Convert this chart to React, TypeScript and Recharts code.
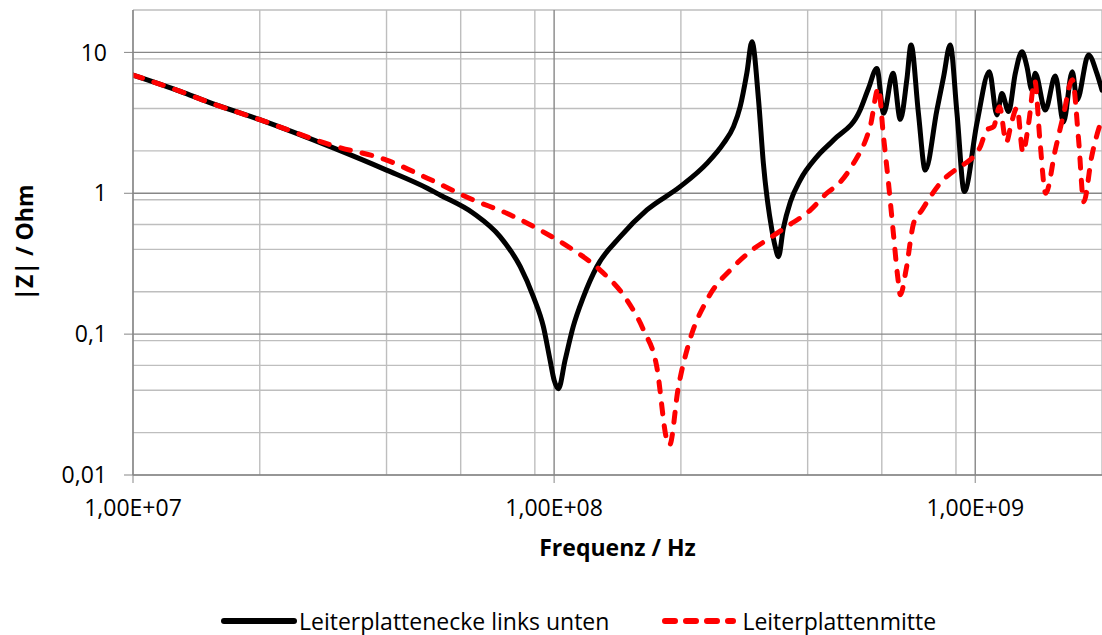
import { CartesianGrid, Line, LineChart, XAxis, YAxis } from "recharts";

// Frequenz in Hz, |Z| in Ohm
const eckeFreq = [
  1.0e7, 1.3e7, 1.5e7, 2.0e7, 3.0e7, 4.0e7, 5.0e7, 5.36e7, 6.43e7, 7.44e7, 8.31e7, 8.93e7,
  9.43e7, 9.78e7, 1.0e8, 1.024e8, 1.062e8, 1.11e8, 1.174e8, 1.263e8, 1.436e8, 1.661e8,
  1.992e8, 2.306e8, 2.525e8, 2.667e8, 2.766e8, 2.87e8, 2.95e8, 3.058e8, 3.14e8, 3.29e8,
  3.35e8, 3.41e8, 3.5e8, 3.64e8, 3.84e8, 4.21e8, 4.61e8, 5.33e8, 5.58e8, 5.84e8, 6.06e8,
  6.38e8, 6.64e8, 6.88e8, 7.04e8, 7.33e8, 7.61e8, 8.11e8, 8.41e8, 8.72e8, 9.05e8, 9.42e8,
  1.01e9, 1.08e9, 1.126e9, 1.157e9, 1.2e9, 1.245e9, 1.291e9, 1.327e9, 1.363e9, 1.388e9,
  1.467e9, 1.549e9, 1.62e9, 1.7e9, 1.745e9, 1.858e9, 1.945e9, 2.0e9,
];
const eckeZ = [
  6.9, 5.27, 4.47, 3.33, 2.09, 1.46, 1.085, 0.972, 0.721, 0.492, 0.301, 0.184,
  0.113, 0.0655, 0.0472, 0.041, 0.0655, 0.113, 0.184, 0.301, 0.492, 0.761,
  1.114, 1.63, 2.26, 2.97, 4.12, 7.2, 11.9, 4.6, 1.63, 0.548,
  0.418, 0.355, 0.56, 0.87, 1.24, 1.82, 2.39, 3.9, 5.57, 7.7, 3.7,
  7.1, 3.35, 6.4, 11.3, 3.7, 1.46, 3.9, 6.7, 11.3, 3.7, 1.03,
  3.18, 7.3, 3.6, 5.1, 3.8, 7.1, 10.1, 7.9, 5.4, 7.1,
  3.9, 6.8, 3.2, 7.3, 4.6, 9.6, 7.1, 5.4,
];

const mitteFreq = [
  1.0e7, 1.3e7, 1.5e7, 2.0e7, 3.0e7, 4.0e7, 5.0e7, 6.43e7, 7.72e7, 9.26e7, 1.11e8, 1.286e8,
  1.489e8, 1.63e8, 1.753e8, 1.853e8, 1.88e8, 1.97e8, 2.1e8, 2.306e8, 2.667e8, 3.0e8, 3.2e8,
  3.57e8, 4.06e8, 4.44e8, 4.78e8, 5.14e8, 5.53e8, 5.63e8, 5.89e8, 6.05e8, 6.22e8, 6.4e8,
  6.55e8, 6.64e8, 6.85e8, 7.14e8, 7.47e8, 8.26e8, 9.21e8, 9.47e8, 1.028e9, 1.066e9, 1.106e9,
  1.142e9, 1.185e9, 1.22e9, 1.257e9, 1.298e9, 1.339e9, 1.385e9, 1.424e9, 1.47e9, 1.549e9,
  1.62e9, 1.7e9, 1.76e9, 1.81e9, 1.89e9, 2.0e9,
];
const mitteZ = [
  6.9, 5.27, 4.47, 3.33, 2.17, 1.72, 1.28, 0.896, 0.721, 0.548, 0.396, 0.285,
  0.1747, 0.107, 0.0587, 0.0177, 0.0163, 0.041, 0.0908, 0.1747, 0.301, 0.41, 0.466,
  0.58, 0.76, 1.0, 1.2, 1.63, 2.52, 2.97, 5.57, 2.6, 1.2, 0.5,
  0.25, 0.19, 0.285, 0.612, 0.76, 1.18, 1.545, 1.63, 2.14, 2.82, 2.97,
  4.12, 2.3, 3.2, 4.05, 1.95, 3.14, 6.3, 2.39, 1.0, 2.03,
  3.6, 6.4, 2.39, 0.87, 1.82, 3.4,
];

const xTicks = [1e7, 1e8, 1e9];
const yTicks = [0.01, 0.1, 1, 10];
const xMinor = [1e7, 1e8, 1e9].flatMap((d) => [2, 3, 4, 5, 6, 7, 8, 9].map((m) => m * d)).filter((v) => v <= 2e9);
const yMinor = [0.01, 0.1, 1, 10].flatMap((d) => [2, 3, 4, 5, 6, 7, 8, 9].map((m) => +(m * d).toPrecision(3))).filter((v) => v <= 20);

const ecke = eckeFreq.map((f, i) => ({ f, z: eckeZ[i] }));
const mitte = mitteFreq.map((f, i) => ({ f, z: mitteZ[i] }));

const FONT = "'Open Sans', sans-serif";
const MAJOR = "#878787";
const MINOR = "#BEBEBE";

const fmtX = (v: number) => v.toExponential(2).replace(".", ",").replace(/e\+(\d)$/, "E+0$1");
const fmtY = (v: number) => String(v).replace(".", ",");

export default function App() {
  return (
    <div style={{ position: "absolute", left: 0, top: 0, width: 1102, height: 635, background: "#fff", fontFamily: FONT }}>
      <LineChart width={1102} height={635} margin={{ top: 10, right: 0, bottom: 0, left: 0 }}>
        <CartesianGrid stroke={MINOR} strokeWidth={1.4} verticalValues={xMinor} horizontalValues={yMinor} />
        <CartesianGrid stroke={MAJOR} strokeWidth={1.4} verticalValues={xTicks} horizontalValues={yTicks} />
        <XAxis
          dataKey="f"
          type="number"
          scale="log"
          domain={[1e7, 2e9]}
          allowDataOverflow
          ticks={xTicks}
          tickFormatter={fmtX}
          height={160}
          tickSize={8}
          tickMargin={17}
          stroke={MAJOR}
          tick={{ fill: "#000", fontSize: 23, fontFamily: FONT }}
          label={{ value: "Frequenz / Hz", position: "insideBottom", offset: 79, fill: "#000", fontSize: 23, fontWeight: 700, fontFamily: FONT }}
        />
        <YAxis
          type="number"
          scale="log"
          domain={[0.01, 20]}
          allowDataOverflow
          ticks={yTicks}
          tickFormatter={fmtY}
          width={133}
          tickSize={9}
          tickMargin={17}
          stroke={MAJOR}
          tick={{ fill: "#000", fontSize: 23, fontFamily: FONT }}
          label={{ value: "|Z| / Ohm", angle: -90, position: "insideLeft", offset: 25, fill: "#000", fontSize: 23, fontWeight: 700, fontFamily: FONT, style: { textAnchor: "middle" } }}
        />
        <Line data={ecke} dataKey="z" type="monotone" stroke="#000" strokeWidth={5} dot={false} strokeLinecap="round" strokeLinejoin="round" isAnimationActive={false} />
        <Line data={mitte} dataKey="z" type="monotone" stroke="#FF0000" strokeWidth={5} strokeDasharray="10 12" dot={false} strokeLinecap="round" strokeLinejoin="round" isAnimationActive={false} />
      </LineChart>
      <div style={{ position: "absolute", left: 221, top: 605, height: 32, display: "flex", alignItems: "center", fontSize: 23, color: "#000" }}>
        <svg width={76} height={10}>
          <line x1={3} y1={5} x2={73} y2={5} stroke="#000" strokeWidth={6} strokeLinecap="round" />
        </svg>
        <span style={{ marginLeft: 2 }}>Leiterplattenecke links unten</span>
        <svg width={78} height={10} style={{ marginLeft: 52 }}>
          <line x1={4} y1={5} x2={72} y2={5} stroke="#FF0000" strokeWidth={6} strokeDasharray="10 11" strokeLinecap="round" />
        </svg>
        <span style={{ marginLeft: 3 }}>Leiterplattenmitte</span>
      </div>
    </div>
  );
}
